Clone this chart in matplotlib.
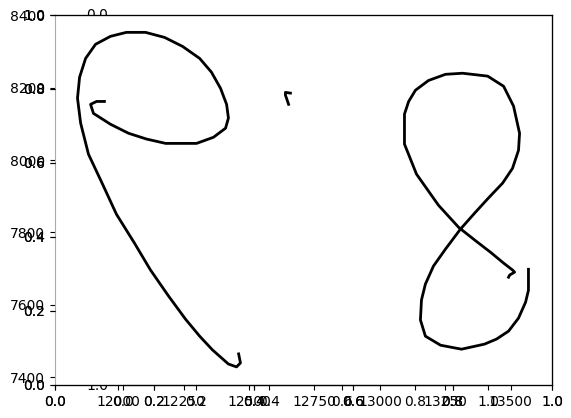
import numpy as np
import matplotlib
matplotlib.use("Agg")
import matplotlib.pyplot as plt

# --- handwritten digit strokes (data units) ---
nine_x = [11947, 11917, 11894, 11905, 11970, 12039, 12108, 12181, 12299, 12364,
          12410, 12421, 12414, 12391, 12356, 12311, 12246, 12177, 12104, 12031,
          11970, 11913, 11875, 11852, 11844, 11856, 11886, 11940, 11993, 12062,
          12123, 12192, 12257, 12311, 12360, 12421, 12452, 12467, 12460]
nine_y = [8162, 8162, 8154, 8129, 8099, 8074, 8058, 8046, 8046, 8063,
          8088, 8116, 8154, 8198, 8243, 8281, 8314, 8339, 8353, 8353,
          8342, 8320, 8281, 8229, 8171, 8102, 8016, 7933, 7850, 7770,
          7696, 7624, 7560, 7513, 7475, 7436, 7428, 7439, 7464]

dot_x = [12658, 12639, 12639, 12643, 12651]
dot_y = [8185, 8187, 8179, 8171, 8154]

eight_x = [13568, 13568, 13557, 13530, 13492, 13446, 13400, 13312, 13232, 13174,
           13155, 13159, 13174, 13205, 13251, 13308, 13362, 13415, 13469, 13507,
           13530, 13534, 13511, 13473, 13412, 13316, 13251, 13186, 13136, 13110,
           13094, 13094, 13140, 13224, 13301, 13362, 13423, 13473, 13507, 13515,
           13496, 13492]
eight_y = [7698, 7640, 7607, 7563, 7527, 7505, 7491, 7477, 7488, 7513,
           7558, 7613, 7657, 7707, 7754, 7809, 7853, 7895, 7936, 7977,
           8027, 8074, 8149, 8204, 8232, 8240, 8237, 8220, 8193, 8162,
           8127, 8044, 7961, 7875, 7814, 7779, 7745, 7715, 7696, 7690,
           7682, 7676]

W, H = 571, 418
fig = plt.figure(figsize=(W / 100, H / 100), dpi=100)

rect = [55 / W, 1 - 385 / H, 497 / W, 370 / H]

# leftover labels from an axes underneath, mostly covered
fig.text(97 / W, 1 - 15 / H, "0.0", ha="center", va="center", zorder=-1)
fig.text(97 / W, 1 - 386 / H, "1.0", ha="center", va="center", zorder=-1)

ax = fig.add_axes(rect)
ax.plot(nine_x, nine_y, color="black", lw=2)
ax.plot(dot_x, dot_y, color="black", lw=2)
ax.plot(eight_x, eight_y, color="black", lw=2)
ax.set_xlim(11758, 13658)
ax.set_ylim(7378, 8401)
ax.spines["left"].set_color("#aaaaaa")

# empty 0..1 axes stacked on top
for i in range(2):
    a = fig.add_axes(rect, label="over%d" % i)
    a.patch.set_alpha(0)
    a.spines["left"].set_visible(False)

# narrower axes, only its x axis shows
ax2 = fig.add_axes([123 / W, 1 - 385 / H, 365 / W, 0.0001], label="narrow")
ax2.patch.set_alpha(0)
ax2.set_yticks([])
for s in ["left", "right", "top"]:
    ax2.spines[s].set_visible(False)

plt.savefig("out.png", dpi=100)
